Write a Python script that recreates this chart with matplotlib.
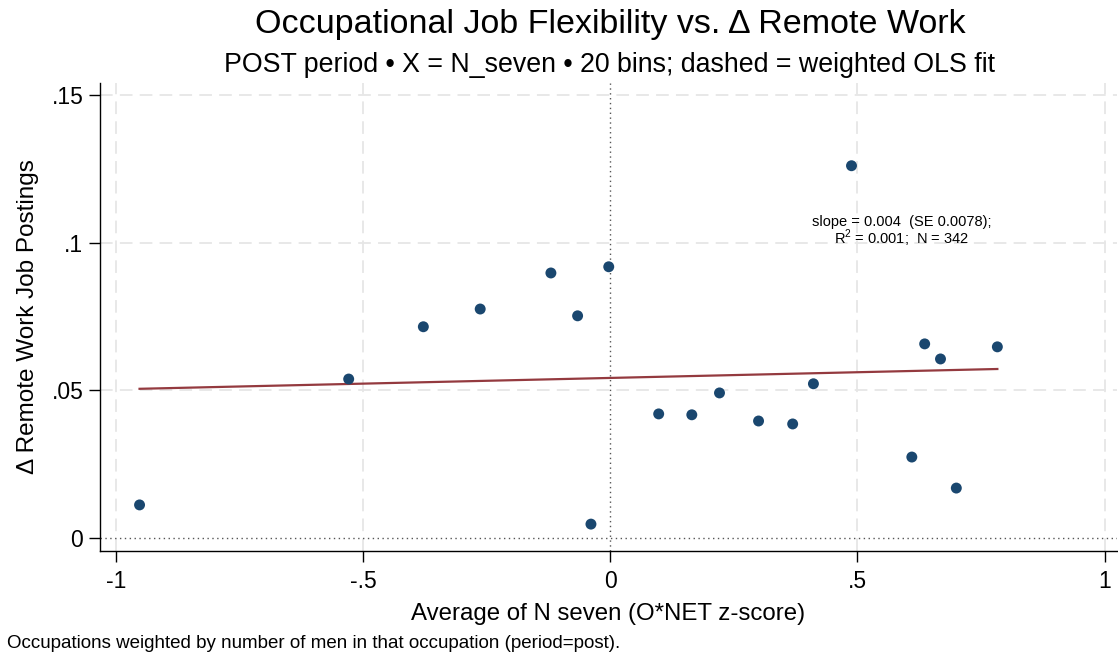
import matplotlib
matplotlib.use("Agg")
import matplotlib.pyplot as plt
import numpy as np

# ---- data ----
bin_x = [-0.952, -0.529, -0.378, -0.263, -0.120, -0.066, -0.039, -0.003,
         0.098, 0.165, 0.221, 0.300, 0.369, 0.411, 0.488, 0.610,
         0.636, 0.668, 0.700, 0.783]
bin_y = [0.0112, 0.0538, 0.0715, 0.0775, 0.0897, 0.0752, 0.0047, 0.0918,
         0.0420, 0.0417, 0.0491, 0.0396, 0.0386, 0.0522, 0.1260, 0.0274,
         0.0657, 0.0606, 0.0169, 0.0647]
fit_x = [-0.952, 0.783]
fit_y = [0.0505, 0.0572]

x_ticks = [-1, -0.5, 0, 0.5, 1]
x_tick_labels = ["-1", "-.5", "0", ".5", "1"]
y_ticks = [0, 0.05, 0.1, 0.15]
y_tick_labels = ["0", ".05", ".1", ".15"]

title = "Occupational Job Flexibility vs. \u0394 Remote Work"
subtitle = "POST period \u2022 X = N_seven \u2022 20 bins; dashed = weighted OLS fit"
xlabel = "Average of N seven (O*NET z-score)"
ylabel = "\u0394 Remote Work Job Postings"
note = "Occupations weighted by number of men in that occupation (period=post)."
annot = "slope = 0.004  (SE 0.0078);\nR$^2$ = 0.001;  N = 342"

plt.rcParams['font.family'] = ['Liberation Sans', 'DejaVu Sans']
plt.rcParams['mathtext.fontset'] = 'custom'
plt.rcParams['mathtext.rm'] = 'Liberation Sans'

W, H = 1118, 655
fig = plt.figure(figsize=(W / 100, H / 100), dpi=100)
ax = fig.add_axes([100 / W, (H - 551) / H, (1117 - 100) / W, (551 - 83) / H])

ax.set_xlim(-1.032, 1.025)
ax.set_ylim(-0.0044, 0.154)

# gridlines
for xv in x_ticks:
    if xv == 0:
        ax.axvline(xv, color='#555555', lw=1.0, ls=(0, (1, 2.5)), zorder=1)
    else:
        ax.axvline(xv, color='#e6e6e6', lw=1.3, ls=(0, (7, 4)), zorder=0)
for yv in y_ticks:
    if yv == 0:
        ax.axhline(yv, color='#555555', lw=1.0, ls=(0, (1, 2.5)), zorder=1)
    else:
        ax.axhline(yv, color='#e6e6e6', lw=1.3, ls=(0, (7, 4)), zorder=0)

ax.plot(fit_x, fit_y, color='#943a3f', lw=1.6, zorder=2)
ax.scatter(bin_x, bin_y, s=62, color='#1a476f', edgecolors='none', zorder=3)

ax.set_xticks(x_ticks)
ax.set_xticklabels(x_tick_labels)
ax.set_yticks(y_ticks)
ax.set_yticklabels(y_tick_labels)
ax.tick_params(axis='both', direction='out', length=8, width=1.0,
               labelsize=16.5, color='black', pad=4)
ax.tick_params(axis='x', pad=6)

for s in ['top', 'right']:
    ax.spines[s].set_visible(False)
for s in ['left', 'bottom']:
    ax.spines[s].set_linewidth(1.0)
    ax.spines[s].set_color('black')

ax.set_xlabel(xlabel, fontsize=17.3, labelpad=7)
ax.set_ylabel(ylabel, fontsize=17.5, labelpad=9)

ax.text(0.589, 0.1035, annot, fontsize=10.5, ha='center', va='center',
        linespacing=0.9, zorder=4)

fig.text(610 / W, 1 - 25 / H, title, fontsize=24.5, ha='center', va='center')
fig.text(610 / W, 1 - 65 / H, subtitle, fontsize=19.3, ha='center', va='center')
fig.text(7 / W, 1 - 643 / H, note, fontsize=13.5, ha='left', va='center')

fig.savefig("out.png", dpi=100)
